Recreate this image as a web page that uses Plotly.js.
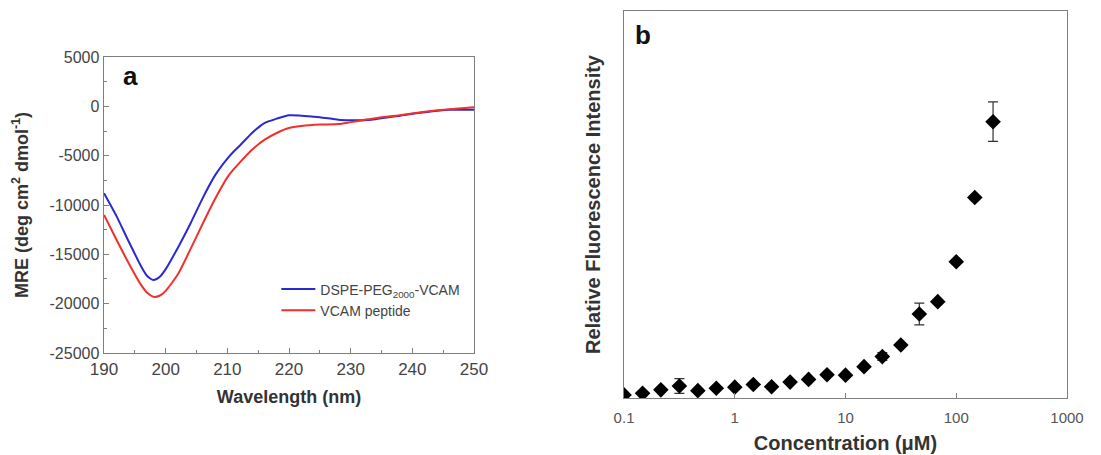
<!DOCTYPE html>
<html>
<head>
<meta charset="utf-8">
<script src="https://cdn.plot.ly/plotly-3.0.1.min.js"></script>
<style>html,body{margin:0;padding:0;background:#fff;}#chart{width:1101px;height:455px;}</style>
</head>
<body>
<div id="chart"></div>
<script>
// Panel a: CD spectra
var wavelength = [190, 192, 194, 196, 197, 198, 199, 200, 202, 204, 206, 208, 210, 211, 212, 214, 216, 218, 220, 222, 225, 228, 230, 232, 234, 238, 242, 246, 250];
var mreDspe    = [-8800, -11100, -13700, -16200, -17200, -17600, -17300, -16500, -14300, -11900, -9300, -7000, -5300, -4600, -4000, -2700, -1700, -1250, -900, -950, -1100, -1350, -1400, -1400, -1300, -950, -600, -350, -350];
var mreVcam    = [-11000, -13500, -15900, -18100, -18900, -19300, -19200, -18700, -17000, -14500, -11900, -9400, -7200, -6400, -5700, -4400, -3400, -2700, -2200, -2000, -1850, -1800, -1600, -1400, -1200, -900, -550, -300, -100];
var seriesNames = ['DSPE-PEG<sub>2000</sub>-VCAM', 'VCAM peptide'];
var mreTicks = [5000, 0, -5000, -10000, -15000, -20000, -25000];
var mreTickText = ['5000', '0', '-5000', '-10000', '-15000', '-20000', '-25000'];

// Panel b: fluorescence vs concentration
var concentration = [0.1, 0.147, 0.215, 0.316, 0.464, 0.681, 1, 1.47, 2.15, 3.16, 4.64, 6.81, 10, 14.7, 21.5, 31.6, 46.4, 68.1, 100, 147, 215];
var fluorescence  = [0.8, 1.2, 2.1, 3.1, 1.9, 2.5, 2.8, 3.5, 2.9, 4.1, 4.8, 6.0, 5.9, 8.1, 10.7, 13.7, 21.7, 24.9, 35.2, 51.8, 71.4];
var fluorError    = [0, 0, 0, 1.9, 0, 0, 0, 0, 0, 0, 0, 0, 0, 0, 1.0, 0, 2.8, 0, 0, 0, 5.1];
var concTicks = [0.1, 1, 10, 100, 1000];
var concTickText = ['0.1', '1', '10', '100', '1000'];

var FONT = 'Liberation Sans, Arial, sans-serif';
var FRAME = '#7f7f7f';

var traces = [
  {x: wavelength, y: mreDspe, name: seriesNames[0], type: 'scatter', mode: 'lines',
   line: {color: '#2a2ad0', width: 2, shape: 'spline', smoothing: 0.6}, xaxis: 'x', yaxis: 'y'},
  {x: wavelength, y: mreVcam, name: seriesNames[1], type: 'scatter', mode: 'lines',
   line: {color: '#f0302a', width: 2, shape: 'spline', smoothing: 0.6}, xaxis: 'x', yaxis: 'y'},
  {x: concentration, y: fluorescence, type: 'scatter', mode: 'markers', showlegend: false,
   marker: {symbol: 'diamond', size: 12, color: '#000'},
   error_y: {type: 'data', array: fluorError, visible: true, color: '#333', thickness: 1.2, width: 5},
   xaxis: 'x2', yaxis: 'y2'}
];

var layout = {
  width: 1101, height: 455,
  margin: {l: 0, r: 0, t: 0, b: 0},
  paper_bgcolor: '#fff', plot_bgcolor: '#fff',
  font: {family: FONT, color: '#333'},
  showlegend: true,
  legend: {x: 0.251, y: 1 - 300/455, xanchor: 'left', yanchor: 'middle', bgcolor: 'rgba(0,0,0,0)',
           font: {size: 14, color: '#444', family: FONT}, tracegroupgap: 0, itemwidth: 34},
  xaxis: {domain: [0.0945, 0.4305], range: [190, 250], dtick: 10, tick0: 190,
          showline: true, mirror: true, linecolor: FRAME, linewidth: 1.5,
          ticks: 'inside', ticklen: 5, tickcolor: FRAME, showgrid: false, zeroline: false,
          minor: {dtick: 5, ticks: 'inside', ticklen: 3, tickcolor: FRAME, showgrid: false},
          tickfont: {size: 17, color: '#444'},
          title: {text: '<b>Wavelength (nm)</b>', font: {size: 18, color: '#333'}, standoff: 12},
          anchor: 'y'},
  yaxis: {domain: [0.2242, 0.8747], range: [-25000, 5000],
          tickvals: mreTicks, ticktext: mreTickText,
          showline: true, mirror: true, linecolor: FRAME, linewidth: 1.5,
          ticks: 'inside', ticklen: 5, tickcolor: FRAME, showgrid: false, zeroline: false,
          minor: {dtick: 2500, ticks: 'inside', ticklen: 3, tickcolor: FRAME, showgrid: false},
          tickfont: {size: 16, color: '#444'},
          title: {text: '<b>MRE (deg cm<sup>2</sup> dmol<sup>-1</sup>)</b>', font: {size: 18, color: '#333'}, standoff: 16},
          anchor: 'x'},
  xaxis2: {domain: [0.5668, 0.9691], type: 'log', range: [-1, 3],
           tickvals: concTicks, ticktext: concTickText,
           showline: true, mirror: true, linecolor: FRAME, linewidth: 1.5,
           ticks: 'inside', ticklen: 5, tickcolor: FRAME, showgrid: false, zeroline: false,
           tickfont: {size: 15, color: '#555'}, ticklabelstandoff: 6,
           title: {text: '<b>Concentration (μM)</b>', font: {size: 20, color: '#333'}, standoff: 10},
           anchor: 'y2'},
  yaxis2: {domain: [0.1253, 0.9758], range: [0, 100],
           showline: true, mirror: true, linecolor: FRAME, linewidth: 1.5,
           ticks: '', showticklabels: false, showgrid: false, zeroline: false,
           title: {text: '<b>Relative Fluorescence Intensity</b>', font: {size: 20, color: '#333'}, standoff: 16},
           anchor: 'x2'},
  annotations: [
    {text: '<b>a</b>', xref: 'paper', yref: 'paper', x: 130/1101, y: 1 - 76/455, xanchor: 'center', yanchor: 'middle',
     showarrow: false, font: {size: 26, color: '#111', family: FONT}},
    {text: '<b>b</b>', xref: 'paper', yref: 'paper', x: 643/1101, y: 1 - 35/455, xanchor: 'center', yanchor: 'middle',
     showarrow: false, font: {size: 26, color: '#111', family: FONT}}
  ]
};

Plotly.newPlot('chart', traces, layout, {displayModeBar: false, staticPlot: true});
</script>
</body>
</html>
